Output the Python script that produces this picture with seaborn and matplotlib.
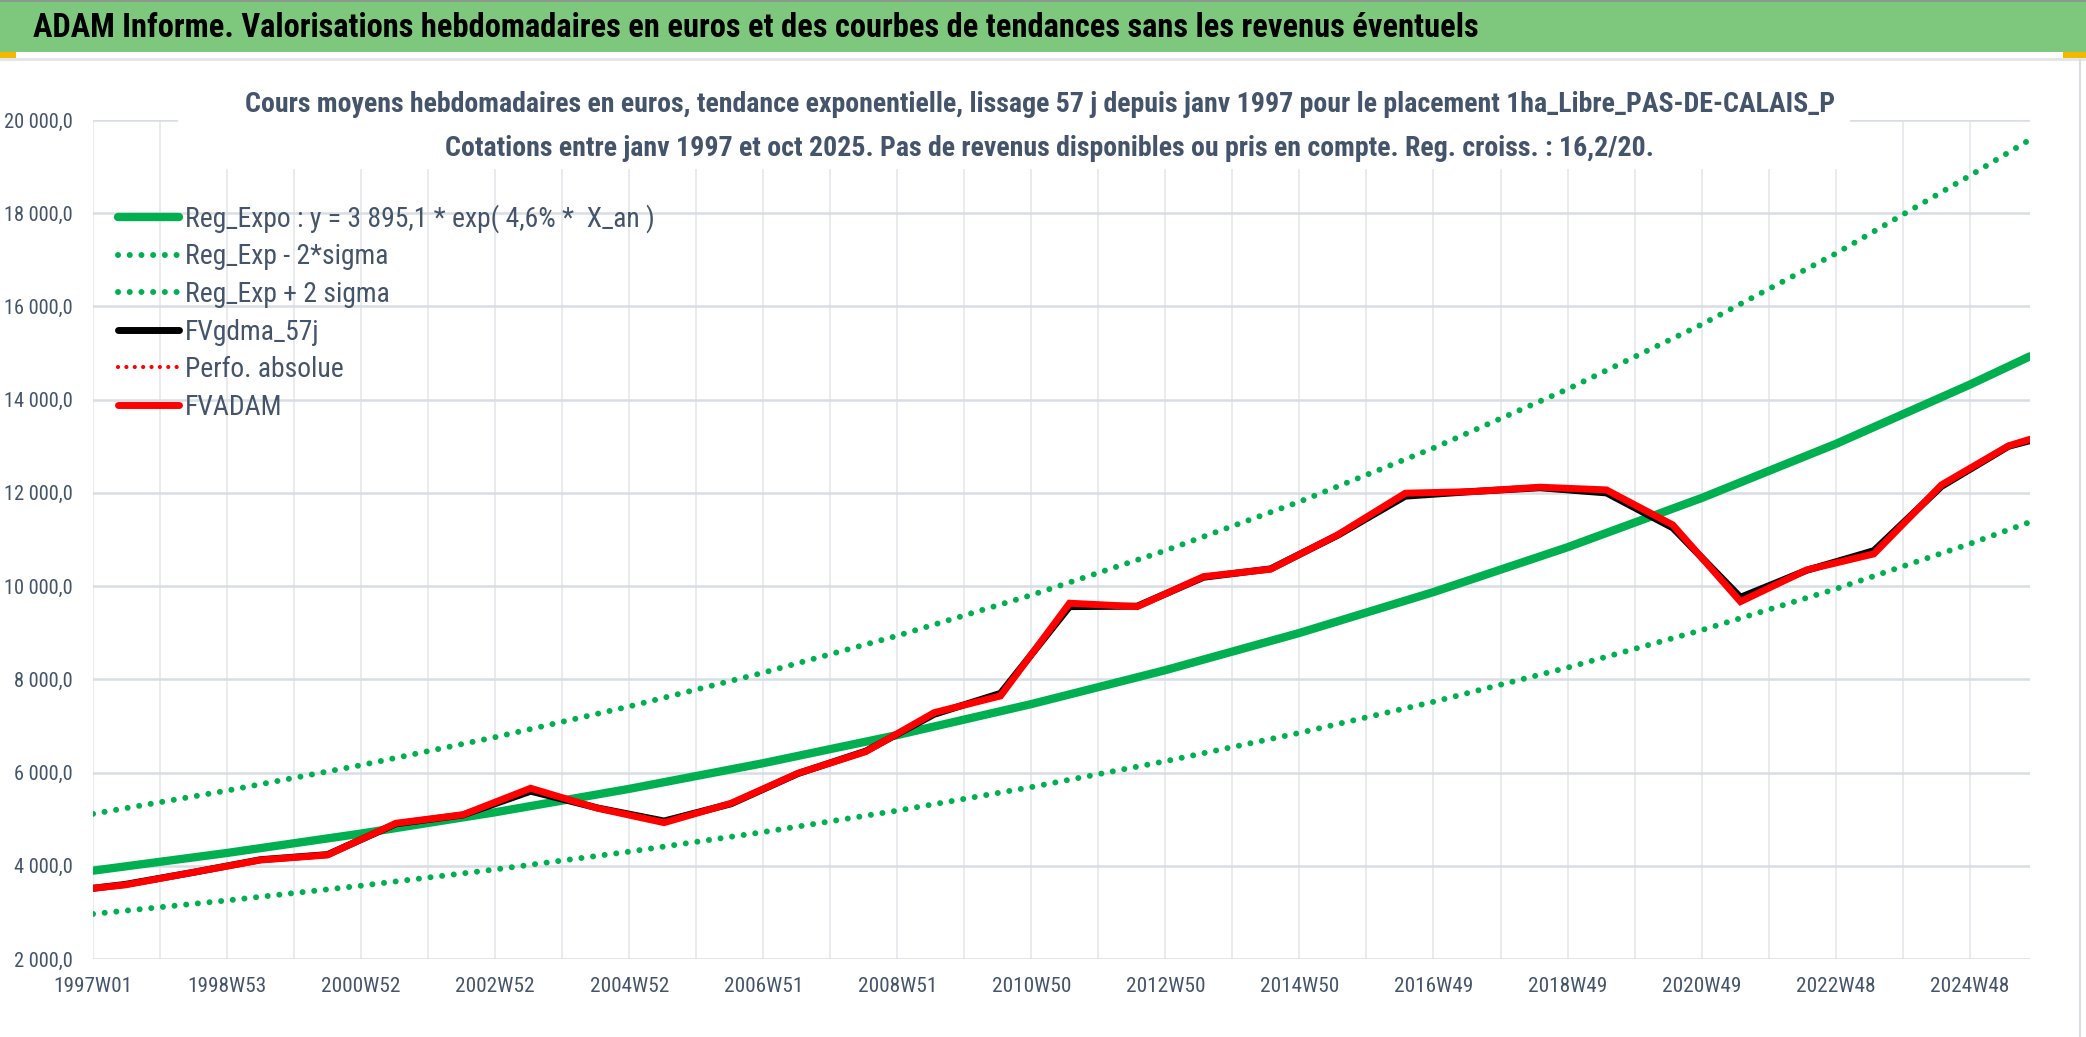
import matplotlib
matplotlib.use("Agg")
import matplotlib.pyplot as plt
import matplotlib.font_manager as fm
from matplotlib.patches import Rectangle
from matplotlib.lines import Line2D
import seaborn as sns
import pandas as pd

# --- data (t = years since 1997W01) ---
tick_years = [0, 2, 4, 6, 8, 10, 12, 14, 16, 18, 20, 22, 24, 26, 28]
tick_labels = ["1997W01", "1998W53", "2000W52", "2002W52", "2004W52", "2006W51",
               "2008W51", "2010W50", "2012W50", "2014W50", "2016W49", "2018W49",
               "2020W49", "2022W48", "2024W48"]

trend_t = [0, 2, 4, 6, 8, 10, 12, 14, 16, 18, 20, 22, 24, 26, 28, 28.9]
reg_expo = [3895, 4275, 4691, 5148, 5650, 6201, 6805, 7469, 8197, 8995, 9872,
            10834, 11890, 13049, 14321, 14930]
reg_minus = [2966, 3256, 3573, 3921, 4303, 4723, 5183, 5688, 6243, 6851, 7518,
             8251, 9055, 9938, 10907, 11375]
reg_plus = [5114, 5613, 6159, 6759, 7418, 8142, 8935, 9807, 10763, 11810, 12962,
            14225, 15612, 17133, 18803, 19580]

fv_t = [0.00, 0.48, 1.50, 2.50, 3.50, 4.52, 5.52, 6.53, 7.53, 8.52, 9.52, 10.52,
        11.53, 12.55, 13.54, 14.57, 15.58, 16.57, 17.57, 18.57, 19.58, 20.59,
        21.59, 22.58, 23.57, 24.58, 25.57, 26.57, 27.58, 28.58, 28.90]
fvadam = [3517, 3590, 3860, 4124, 4232, 4912, 5095, 5663, 5234, 4925, 5341, 5985,
          6449, 7285, 7644, 9633, 9560, 10204, 10363, 11099, 11993, 12028,
          12122, 12064, 11313, 9667, 10348, 10691, 12172, 13010, 13150]
fvgdma = [3517, 3600, 3860, 4130, 4240, 4900, 5090, 5600, 5240, 4960, 5330, 5980,
          6460, 7250, 7700, 9560, 9570, 10190, 10370, 11090, 11930, 12030,
          12110, 12000, 11250, 9760, 10340, 10760, 12140, 13000, 13120]

y_ticks = [2000, 4000, 6000, 8000, 10000, 12000, 14000, 16000, 18000, 20000]

header = ("ADAM Informe. Valorisations hebdomadaires en euros et des courbes "
          "de tendances sans les revenus éventuels")
title1 = ("Cours moyens hebdomadaires en euros, tendance exponentielle, lissage 57 j "
          "depuis janv 1997 pour le placement 1ha_Libre_PAS-DE-CALAIS_P")
title2 = ("Cotations entre janv 1997 et oct 2025. Pas de revenus disponibles ou pris "
          "en compte. Reg. croiss. : 16,2/20.")
leg_labels = ["Reg_Expo : y = 3 895,1 * exp( 4,6% *  X_an )", "Reg_Exp - 2*sigma",
              "Reg_Exp + 2 sigma", "FVgdma_57j", "Perfo. absolue", "FVADAM"]

GREEN = "#00b050"
RED = "#ff0000"
TXT = "#44546a"

sns.set_style("white")

# pick a narrow face if the system has one (the reference uses a narrow font)
fonts = fm.fontManager.ttflist
names = {f.name for f in fonts}
family = ["DejaVu Sans"]
for cand in ["Liberation Sans Narrow", "DejaVu Sans Condensed", "Roboto Condensed",
             "Open Sans Condensed", "Noto Sans Condensed"]:
    if cand in names:
        family = [cand, "DejaVu Sans"]
        break
else:
    if any(f.name == "DejaVu Sans" and f.stretch not in ("normal", 500) for f in fonts):
        plt.rcParams["font.stretch"] = "condensed"
    elif "Liberation Sans" in names:
        family = ["Liberation Sans", "DejaVu Sans"]
plt.rcParams["font.family"] = family

W, H = 2086, 1037
fig = plt.figure(figsize=(W / 100, H / 100), dpi=100)
renderer = fig.canvas.get_renderer()


def fit_size(s, target_px, weight="normal", base=20):
    t = fig.text(0, 0, s, fontsize=base, fontweight=weight)
    w = t.get_window_extent(renderer).width
    t.remove()
    return base * target_px / w


fs_header = fit_size(header, 1445, "bold")
fs_title1 = fit_size(title1, 1586, "bold")
fs_title2 = min(fit_size(title2, 1212, "bold"), fs_title1)
fs_legend = fit_size(leg_labels[0], 470)
fs_ytick = fit_size("20 000,0", 69)
fs_xtick = fit_size("1997W01", 79)

# header band
fig.patches.append(Rectangle((0, 1 - 52 / H), 1, 52 / H, transform=fig.transFigure,
                             facecolor="#7ec87e", edgecolor="none", zorder=0))
fig.lines.append(Line2D([0, 1], [1 - 1 / H] * 2, transform=fig.transFigure,
                        color="#8a9a8a", lw=1.5))
fig.lines.append(Line2D([0, 1], [1 - 59 / H] * 2, transform=fig.transFigure,
                        color="#e2e4e8", lw=2))
fig.patches.append(Rectangle((0, 1 - 58 / H), 16 / W, 6 / H, transform=fig.transFigure,
                             facecolor="#f5b800", edgecolor="none"))
fig.patches.append(Rectangle((2063 / W, 1 - 58 / H), 23 / W, 6 / H,
                             transform=fig.transFigure, facecolor="#f5b800",
                             edgecolor="none"))
fig.lines.append(Line2D([2080 / W] * 2, [0, 1 - 60 / H], transform=fig.transFigure,
                        color="#d9dce2", lw=1.5))
fig.text(33 / W, 1 - 28 / H, header, fontsize=fs_header, fontweight="bold",
         color="black", va="center", ha="left")

ax = fig.add_axes([93 / W, 1 - 959 / H, (2030 - 93) / W, (959 - 120) / H])

trend = pd.DataFrame({"t": trend_t, "reg": reg_expo, "low": reg_minus, "high": reg_plus})
fv = pd.DataFrame({"t": fv_t, "fvadam": fvadam, "fvgdma": fvgdma})

dot = (0, (0.01, 1.95))
sns.lineplot(data=trend, x="t", y="reg", ax=ax, color=GREEN, lw=6,
             label=leg_labels[0])
sns.lineplot(data=trend, x="t", y="low", ax=ax, color=GREEN, lw=4.3, linestyle=dot,
             dash_capstyle="round", label=leg_labels[1])
sns.lineplot(data=trend, x="t", y="high", ax=ax, color=GREEN, lw=4.3, linestyle=dot,
             dash_capstyle="round", label=leg_labels[2])
sns.lineplot(data=fv, x="t", y="fvgdma", ax=ax, color="black", lw=5,
             label=leg_labels[3])
ax.plot([], [], color=RED, lw=3, linestyle=(0, (0.01, 2)), dash_capstyle="round",
        label=leg_labels[4])
sns.lineplot(data=fv, x="t", y="fvadam", ax=ax, color=RED, lw=5,
             solid_joinstyle="miter", label=leg_labels[5])

ax.set_xlim(0, 28.9)
ax.set_ylim(2000, 20000)
ax.set_xticks(tick_years)
ax.set_xticklabels(tick_labels)
ax.set_xticks(range(0, 29), minor=True)
ax.set_yticks(y_ticks)
ax.set_yticklabels([f"{v:,.1f}".replace(",", " ").replace(".", ",") for v in y_ticks])
ax.set_xlabel("")
ax.set_ylabel("")

ax.grid(axis="y", color="#d9dde4", lw=1.8)
ax.grid(axis="x", which="both", color="#e3e6eb", lw=1.1)
ax.tick_params(axis="x", which="both", length=5, width=1.1, color="#e3e6eb",
               labelsize=fs_xtick, labelcolor=TXT, pad=8)
ax.tick_params(axis="y", length=0, labelsize=fs_ytick, labelcolor=TXT, pad=14.4)
for s in ax.spines.values():
    s.set_visible(False)

fs_px = fs_legend * 100 / 72
handles, labels = ax.get_legend_handles_labels()
ax.legend(handles, labels, loc="upper left", bbox_to_anchor=(0.013, 0.9),
          frameon=False, fontsize=fs_legend, labelcolor=TXT,
          handlelength=61 / fs_px, handletextpad=6 / fs_px,
          labelspacing=max(43 / fs_px - 1.17, 0.2), borderpad=0, borderaxespad=0)

# white box behind the chart titles
ax.add_patch(Rectangle((178 / W, 1 - 169 / H), (1850 - 178) / W, 100 / H,
                       transform=fig.transFigure, facecolor="white",
                       edgecolor="none", zorder=1, clip_on=False))
fig.text(1040 / W, 1 - 104 / H, title1, fontsize=fs_title1, fontweight="bold",
         color=TXT, ha="center", va="center")
fig.text(1049 / W, 1 - 148 / H, title2, fontsize=fs_title2, fontweight="bold",
         color=TXT, ha="center", va="center")

fig.savefig("out.png", dpi=100)
